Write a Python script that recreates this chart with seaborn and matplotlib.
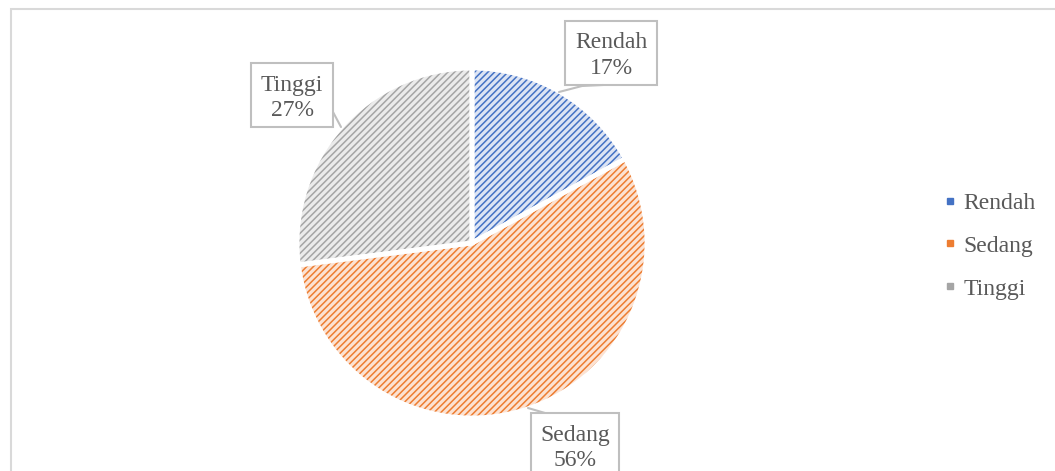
import matplotlib
matplotlib.use("Agg")
import matplotlib.pyplot as plt
import seaborn as sns
from matplotlib.lines import Line2D
from matplotlib.patches import Rectangle

# data
kategori = ["Rendah", "Sedang", "Tinggi"]
persen = [17, 56, 27]
warna = ["#4472C4", "#ED7D31", "#A5A5A5"]
warna_muda = ["#DCE4F4", "#FCE2D2", "#EBEBEB"]

sns.set_theme(style="white")
plt.rcParams["font.family"] = ["Liberation Serif", "DejaVu Serif"]
plt.rcParams["hatch.linewidth"] = 1.1

W, H = 1055, 471
fig = plt.figure(figsize=(W / 100, H / 100), dpi=100)

# bingkai luar
fig.patches.append(Rectangle((11 / W, -0.1), 1.2, 1 - 9 / H + 0.1, transform=fig.transFigure,
                             fill=False, edgecolor="#D9D9D9", linewidth=1.5))

cx, cy, r = 472, H - 243, 175
half = 200
ax = fig.add_axes([(cx - half) / W, (cy - half) / H, 2 * half / W, 2 * half / H])
lim = half / r

# isi pie dengan pola arsir
wedges, _ = ax.pie(persen, colors=warna_muda, startangle=90, counterclock=False,
                   radius=1, wedgeprops=dict(linewidth=0))
for w, c in zip(wedges, warna):
    w.set_edgecolor(c)
    w.set_hatch("/////")
# garis putih antar irisan
ax.pie(persen, colors=["none"] * 3, startangle=90, counterclock=False, radius=1,
       wedgeprops=dict(edgecolor="white", linewidth=3.5, fill=False))
ax.set_xlim(-lim, lim)
ax.set_ylim(-lim, lim)
ax.set_aspect("equal")
ax.axis("off")

# label data dalam kotak (posisi dalam piksel)
kotak = {
    "Rendah": (565, 21, 657, 85, [(559, 92), (582, 86), (603, 85)]),
    "Sedang": (531, 413, 619, 490, [(528, 408), (545, 413)]),
    "Tinggi": (251, 63, 333, 127, [(333, 112), (341, 127)]),
}
for nama, p in zip(kategori, persen):
    x0, y0, x1, y1, garis = kotak[nama]
    fig.patches.append(Rectangle((x0 / W, 1 - y1 / H), (x1 - x0) / W, (y1 - y0) / H,
                                 transform=fig.transFigure, facecolor="white",
                                 edgecolor="#BFBFBF", linewidth=1.5))
    fig.lines.append(Line2D([g[0] / W for g in garis], [1 - g[1] / H for g in garis],
                            transform=fig.transFigure, color="#BFBFBF", linewidth=1.5))
    xm = (x0 + x1) / 2
    fig.text(xm / W, 1 - (y0 + 22) / H, nama, ha="center", va="center",
             fontsize=17, color="#595959")
    fig.text(xm / W, 1 - (y0 + 48) / H, f"{p}%", ha="center", va="center",
             fontsize=17, color="#595959")

# legenda
handles = [Line2D([], [], marker="s", linestyle="none", markersize=5,
                  markerfacecolor=c, markeredgecolor=c) for c in warna]
fig.legend(handles, kategori, loc="center left", bbox_to_anchor=(934 / W, 1 - 246 / H),
           frameon=False, fontsize=17, labelcolor="#595959", handlelength=0.55,
           handletextpad=0.3, labelspacing=0.9, borderaxespad=0)

fig.savefig("out.png", dpi=100)
